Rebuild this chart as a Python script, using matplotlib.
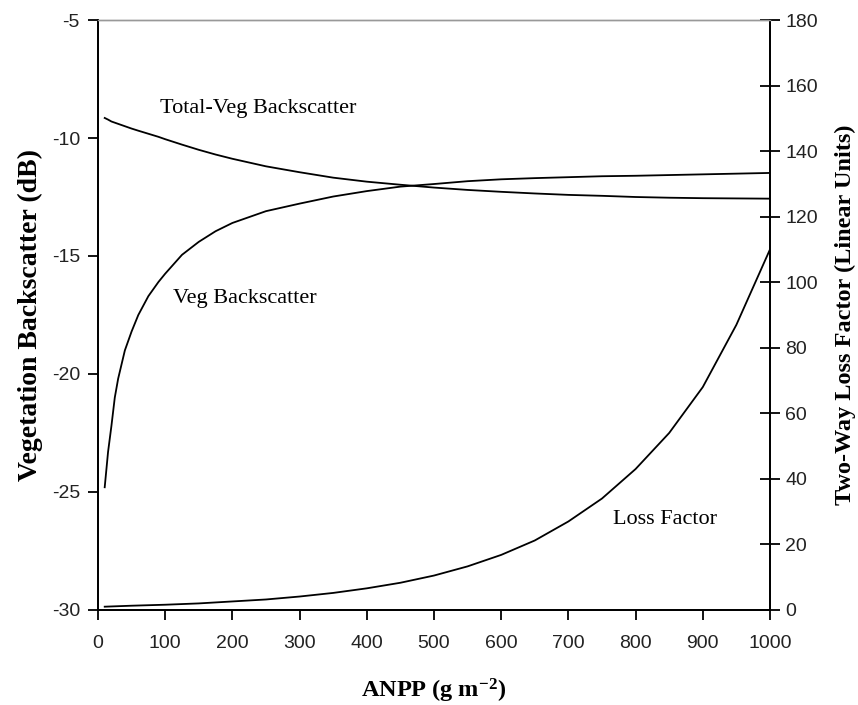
import matplotlib
matplotlib.use("Agg")
import matplotlib.pyplot as plt

# ---- data ----
anpp_bs = [10, 15, 20, 25, 30, 40, 50, 60, 75, 90, 100, 125, 150, 175, 200, 250,
           300, 350, 400, 450, 500, 550, 600, 650, 700, 750, 800, 850, 900, 950, 1000]
veg_bs = [-24.8, -23.3, -22.2, -21.0, -20.2, -19.0, -18.2, -17.5, -16.7, -16.1,
          -15.75, -14.95, -14.4, -13.95, -13.6, -13.1, -12.78, -12.48, -12.25,
          -12.06, -11.95, -11.83, -11.75, -11.7, -11.66, -11.62, -11.6, -11.57,
          -11.54, -11.51, -11.48]
total_veg_bs = [-9.15, -9.22, -9.3, -9.35, -9.4, -9.5, -9.6, -9.69, -9.82, -9.95,
                -10.05, -10.28, -10.5, -10.7, -10.88, -11.2, -11.45, -11.68, -11.85,
                -11.98, -12.1, -12.2, -12.28, -12.35, -12.41, -12.45, -12.5, -12.53,
                -12.55, -12.56, -12.57]

anpp_lf = [10, 50, 100, 150, 200, 250, 300, 350, 400, 450, 500, 550, 600, 650,
           700, 750, 800, 850, 900, 950, 1000]
loss_factor = [1.0, 1.3, 1.6, 2.0, 2.6, 3.2, 4.1, 5.2, 6.6, 8.3, 10.5, 13.3, 16.8,
               21.2, 27.0, 34.0, 43.0, 54.0, 68.0, 87.0, 110.0]

x_ticks = [0, 100, 200, 300, 400, 500, 600, 700, 800, 900, 1000]
left_ticks = [-30, -25, -20, -15, -10, -5]
right_ticks = [0, 20, 40, 60, 80, 100, 120, 140, 160, 180]

# ---- style ----
serif = ["Liberation Serif", "DejaVu Serif"]
tickfont = ["Liberation Sans", "DejaVu Sans"]
plt.rcParams["axes.unicode_minus"] = False
plt.rcParams["mathtext.fontset"] = "custom"
plt.rcParams["mathtext.rm"] = "Liberation Serif:bold"
plt.rcParams["mathtext.default"] = "rm"

fig = plt.figure(figsize=(8.58, 7.05), dpi=100)
ax = fig.add_axes([0.1142, 0.1348, 0.7832, 0.8368])
ax2 = ax.twinx()

lw = 1.3
ax.plot(anpp_bs, total_veg_bs, color="black", lw=lw)
ax.plot(anpp_bs, veg_bs, color="black", lw=lw)
ax2.plot(anpp_lf, loss_factor, color="black", lw=lw)

ax.set_xlim(0, 1000)
ax.set_ylim(-30, -5)
ax2.set_ylim(0, 180)
ax.set_xticks(x_ticks)
ax.set_yticks(left_ticks)
ax2.set_yticks(right_ticks)

for a in (ax, ax2):
    for s in a.spines.values():
        s.set_color("black")
        s.set_linewidth(1.3)
    a.spines["top"].set_color("#999999")
    a.spines["top"].set_linewidth(1.0)

ax.tick_params(axis="x", direction="out", length=7, width=1.3, pad=11)
ax.tick_params(axis="y", direction="out", length=7, width=1.3, pad=6)
ax2.tick_params(axis="y", direction="inout", length=14, width=1.3, pad=4)

for lab in ax.get_xticklabels() + ax.get_yticklabels() + ax2.get_yticklabels():
    lab.set_fontfamily(tickfont)
    lab.set_fontsize(14)
    lab.set_color("#222222")

ax.set_xlabel("ANPP (g m$^{-2}$)", fontfamily=serif, fontweight="bold",
              fontsize=17.5, labelpad=18)
ax.set_ylabel("Vegetation Backscatter (dB)", fontfamily=serif, fontweight="bold",
              fontsize=20, labelpad=6)
ax2.set_ylabel("Two-Way Loss Factor (Linear Units)", fontfamily=serif,
               fontweight="bold", fontsize=17.5, labelpad=12)

ax.text(92, -8.75, "Total-Veg Backscatter", fontfamily=serif, fontsize=16,
        ha="left", va="center")
ax.text(111, -16.82, "Veg Backscatter", fontfamily=serif, fontsize=16,
        ha="left", va="center")
ax2.text(766, 27.7, "Loss Factor", fontfamily=serif, fontsize=16,
         ha="left", va="center")

fig.savefig("out.png", dpi=100, facecolor="white")
